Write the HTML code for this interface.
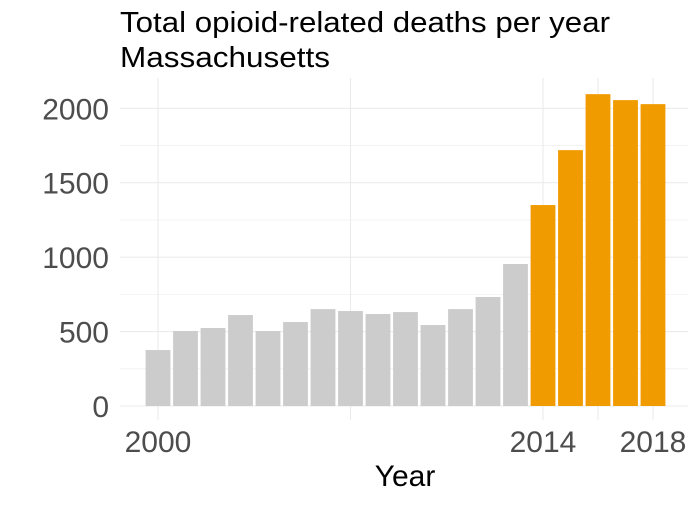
<!DOCTYPE html>
<html><head><meta charset="utf-8"><style>
body{margin:0;background:#fff;}
svg text{font-family:"Liberation Sans",sans-serif;}
</style></head><body>
<svg width="700" height="500" xmlns="http://www.w3.org/2000/svg">
<text x="120" y="32" font-size="29" textLength="490" lengthAdjust="spacingAndGlyphs" fill="#000">Total opioid-related deaths per year</text>
<text x="120" y="67" font-size="29" textLength="210" lengthAdjust="spacingAndGlyphs" fill="#000">Massachusetts</text>
<g id="grid"></g><g id="bars"></g><g id="yt"></g><g id="xt"></g>
<text x="405" y="486" font-size="30" text-anchor="middle" fill="#000">Year</text>
</svg>
<script>
const years=[2000,2001,2002,2003,2004,2005,2006,2007,2008,2009,2010,2011,2012,2013,2014,2015,2016,2017,2018];
const deaths=[376,504,524,611,504,564,651,638,618,631,544,651,732,954,1350,1719,2095,2055,2028];
const yTicks=[0,500,1000,1500,2000];
const xTicks=[2000,2014,2018];
const xGrid=[2000,2007,2014,2016,2018];
const NS="http://www.w3.org/2000/svg";
const x=v=>158+(v-2000)*27.5;
const y=v=>406-v*0.14885;
function mk(t,a,p){const e=document.createElementNS(NS,t);for(const k in a)e.setAttribute(k,a[k]);p.appendChild(e);return e;}
const g=document.getElementById('grid');
for(let v=0;v<=2000;v+=250){const l=mk('line',{x1:120,x2:688,y1:y(v),y2:y(v),stroke:'#ebebeb','stroke-width':v%500?0.6:1.1},g);

}
xGrid.forEach(v=>{const l=mk('line',{x1:x(v),x2:x(v),y1:78,y2:420,stroke:'#ebebeb','stroke-width':1.1},g);

});
const b=document.getElementById('bars');
years.forEach((yr,i)=>{const r=mk('rect',{x:x(yr)-12.4,width:24.8,y:y(deaths[i]),height:y(0)-y(deaths[i]),fill:yr>=2014?'#f09b00':'#cccccc'},b);

});
const yt=document.getElementById('yt');
yTicks.forEach(v=>{const t=mk('text',{x:109,y:y(v)+11,'font-size':30,'text-anchor':'end',fill:'#4d4d4d'},yt);t.textContent=v;

});
const xt=document.getElementById('xt');
xTicks.forEach(v=>{const t=mk('text',{x:x(v),y:452,'font-size':30,'text-anchor':'middle',fill:'#4d4d4d'},xt);t.textContent=v;

});
</script>
</body></html>
